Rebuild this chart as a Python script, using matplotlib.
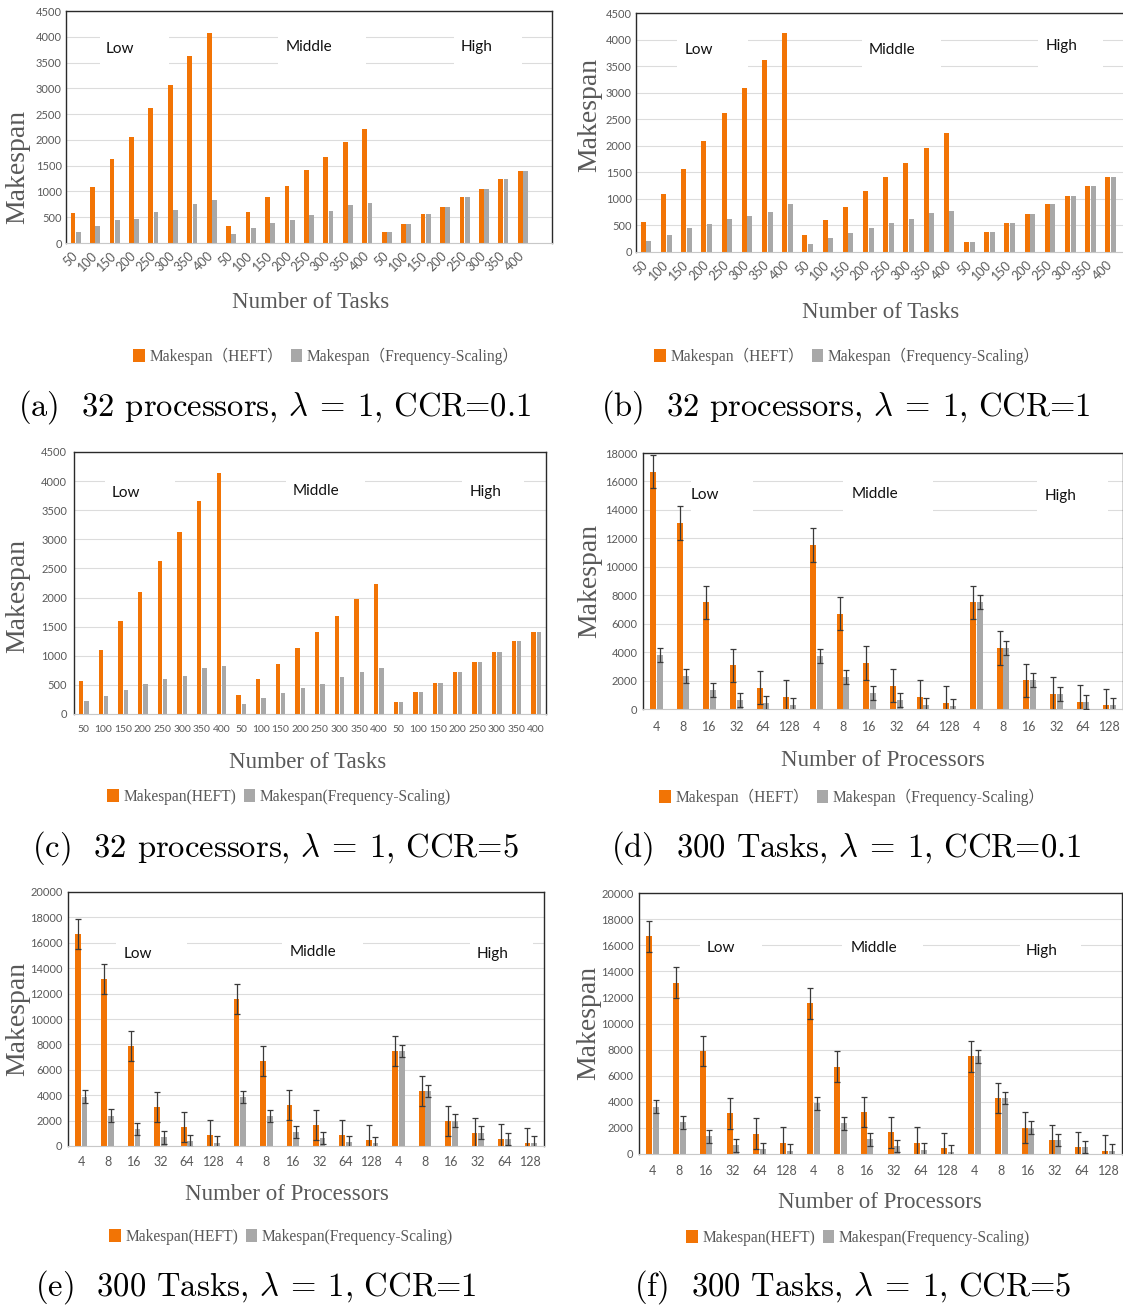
import matplotlib
matplotlib.use('Agg')
import matplotlib.pyplot as plt
from matplotlib.patches import Rectangle, Patch
import numpy as np

plt.rcParams['mathtext.fontset'] = 'cm'

W, H = 1123, 1307

# ---------------- data ----------------
tasks = [50, 100, 150, 200, 250, 300, 350, 400]
procs = [4, 8, 16, 32, 64, 128]
task_labels = [str(t) for t in tasks] * 3
proc_labels = [str(p) for p in procs] * 3
levels = ['Low', 'Middle', 'High']

# (a) 32 processors, CCR=0.1
a_heft_low = [590, 1090, 1625, 2060, 2620, 3065, 3635, 4080]
a_fs_low = [210, 330, 450, 470, 595, 645, 760, 825]
a_heft_mid = [335, 595, 890, 1115, 1420, 1660, 1955, 2210]
a_fs_mid = [175, 285, 380, 445, 535, 625, 730, 775]
a_high = [205, 375, 555, 700, 900, 1050, 1240, 1400]

# (b) 32 processors, CCR=1
b_heft_low = [560, 1090, 1560, 2085, 2620, 3090, 3620, 4130]
b_fs_low = [200, 320, 445, 525, 615, 680, 755, 900]
b_heft_mid = [320, 595, 850, 1140, 1420, 1685, 1965, 2240]
b_fs_mid = [155, 265, 355, 450, 550, 630, 725, 780]
b_high = [195, 375, 540, 715, 905, 1060, 1240, 1420]

# (c) 32 processors, CCR=5
c_heft_low = [575, 1100, 1590, 2100, 2625, 3120, 3655, 4140]
c_fs_low = [215, 315, 405, 520, 600, 660, 795, 830]
c_heft_mid = [320, 595, 860, 1140, 1405, 1680, 1975, 2235]
c_fs_mid = [165, 270, 360, 445, 520, 635, 715, 790]
c_high = [200, 370, 540, 720, 895, 1060, 1255, 1410]

# (d) 300 tasks, CCR=0.1
d_heft_low = [16690, 13080, 7500, 3070, 1500, 840]
d_fs_low = [3820, 2300, 1360, 650, 420, 280]
d_heft_mid = [11550, 6700, 3230, 1640, 840, 420]
d_fs_mid = [3750, 2250, 1120, 610, 300, 230]
d_high = [7500, 4290, 2015, 1080, 515, 260]

# (e) 300 tasks, CCR=1
e_heft_low = [16715, 13140, 7880, 3050, 1525, 840]
e_fs_low = [3890, 2390, 1340, 680, 395, 265]
e_heft_mid = [11565, 6700, 3205, 1655, 840, 445]
e_fs_mid = [3840, 2365, 1105, 630, 290, 210]
e_high = [7490, 4335, 2000, 1050, 550, 265]

# (f) 300 tasks, CCR=5
f_heft_low = [16695, 13140, 7900, 3125, 1550, 865]
f_fs_low = [3635, 2415, 1370, 660, 380, 255]
f_heft_mid = [11540, 6685, 3225, 1650, 865, 455]
f_fs_mid = [3890, 2340, 1120, 610, 330, 180]
f_high = [7500, 4295, 2010, 1065, 535, 255]

# error bar half-widths (constant per series, as read)
err_heft = 1180
err_fs = 490

ORANGE = '#F27405'
GRAY = '#A8A8A8'
TXT = '#595959'
TICKFONT = 'Lato'
SERIF = ['Liberation Serif', 'Noto Sans CJK SC']


def rect(l, t, r, b):
    return [l / W, 1 - b / H, (r - l) / W, (b - t) / H]


def fxy(x, y):
    return x / W, 1 - y / H


fig = plt.figure(figsize=(W / 100, H / 100), dpi=100)


def panel(box, heft, fs, labels, nslots, ymax, ystep, width, off,
          err=False, rot=0, xfs=8, ypad=3, xpad=6, groups=None):
    ax = fig.add_axes(rect(*box))
    x = np.arange(len(heft))
    ax.bar(x - off, heft, width, color=ORANGE, zorder=2)
    ax.bar(x + off, fs, width, color=GRAY, zorder=2)
    if err:
        ax.errorbar(x - off, heft, yerr=err_heft, fmt='none', ecolor='#3a3a3a',
                    elinewidth=0.9, capsize=2.5, capthick=0.9, zorder=3)
        ax.errorbar(x + off, fs, yerr=err_fs, fmt='none', ecolor='#3a3a3a',
                    elinewidth=0.9, capsize=2.5, capthick=0.9, zorder=3)
    ax.set_xlim(-0.5, nslots - 0.5)
    ax.set_ylim(0, ymax)
    ax.set_yticks(np.arange(0, ymax + 1, ystep))
    ax.set_xticks(x)
    if rot:
        ax.set_xticklabels(labels, rotation=rot, ha='right', va='center',
                           rotation_mode='anchor')
    else:
        ax.set_xticklabels(labels)
    ax.tick_params(axis='x', length=0, pad=xpad, labelsize=xfs, labelcolor=TXT)
    ax.tick_params(axis='y', length=0, pad=ypad, labelsize=8, labelcolor=TXT)
    for lab in ax.get_xticklabels() + ax.get_yticklabels():
        lab.set_fontfamily(TICKFONT)
    ax.yaxis.grid(True, color='#DCDCDC', lw=0.8)
    ax.set_axisbelow(True)
    for s in ['top', 'left', 'right']:
        ax.spines[s].set_color('#2a2a2a')
        ax.spines[s].set_linewidth(1.0)
    ax.spines['bottom'].set_color('#C8C8C8')
    ax.spines['bottom'].set_linewidth(0.8)
    if groups:
        for name, (tx, ty, x0, x1, y0, y1) in zip(levels, groups):
            ax.add_patch(Rectangle((x0, y0), x1 - x0, y1 - y0, transform=ax.transAxes,
                                   facecolor='white', edgecolor='none', zorder=1))
            ax.text(tx, ty, name, transform=ax.transAxes, ha='center', va='center',
                    fontsize=11, family='Lato', color='#111111', zorder=4)
    return ax


def labels_and_legend(ylab_xy, xlab_xy, xlab, leg_xy, fullwidth, cap_xy, cap):
    fig.text(*fxy(*ylab_xy), 'Makespan', rotation=90, ha='center', va='center',
             fontsize=20, family=SERIF, color=TXT)
    fig.text(*fxy(*xlab_xy), xlab, ha='center', va='center',
             fontsize=16.5, family=SERIF, color=TXT)
    if fullwidth:
        l1, l2 = 'Makespan（HEFT）', 'Makespan（Frequency-Scaling）'
    else:
        l1, l2 = 'Makespan(HEFT)', 'Makespan(Frequency-Scaling)'
    handles = [Patch(facecolor=ORANGE, edgecolor='none'),
               Patch(facecolor=GRAY, edgecolor='none')]
    fig.legend(handles, [l1, l2], loc='center', bbox_to_anchor=fxy(*leg_xy),
               ncol=2, frameon=False, prop={'family': SERIF, 'size': 11.2},
               labelcolor=TXT, handlelength=0.75, handleheight=0.9,
               handletextpad=0.3, columnspacing=0.5, borderpad=0, borderaxespad=0)
    fig.text(*fxy(*cap_xy), cap, ha='center', va='center', fontsize=23.5,
             family='cmr10', color='black')


# (a)
panel((66, 11, 552, 243), a_heft_low + a_heft_mid + a_high, a_fs_low + a_fs_mid + a_high,
      task_labels, 25, 4500, 500, 0.245, 0.135, rot=45, xfs=9, xpad=8,
      groups=[(0.111, 0.835, 0.070, 0.211, 0.76, 0.90),
              (0.499, 0.846, 0.436, 0.618, 0.76, 0.90),
              (0.845, 0.846, 0.799, 0.939, 0.76, 0.90)])
labels_and_legend((18, 167), (311, 302), 'Number of Tasks', (326, 356), True,
                  (275, 407), r'(a)  32 processors, $\lambda\:=\:1$, CCR=0.1')

# (b)
panel((636, 13, 1141, 252), b_heft_low + b_heft_mid + b_high, b_fs_low + b_fs_mid + b_high,
      task_labels, 25, 4500, 500, 0.245, 0.135, rot=45, xfs=9, xpad=8,
      groups=[(0.125, 0.844, 0.082, 0.221, 0.76, 0.90),
              (0.507, 0.847, 0.447, 0.604, 0.76, 0.90),
              (0.843, 0.861, 0.796, 0.925, 0.76, 0.90)])
labels_and_legend((590, 115), (881, 313), 'Number of Tasks', (847, 356), True,
                  (846, 407), r'(b)  32 processors, $\lambda\:=\:1$, CCR=1')

# (c)
panel((74, 452, 546, 714), c_heft_low + c_heft_mid + c_high, c_fs_low + c_fs_mid + c_high,
      task_labels, 24, 4500, 500, 0.22, 0.13, xfs=7.5, xpad=8, ypad=5,
      groups=[(0.110, 0.845, 0.065, 0.213, 0.81, 0.91),
              (0.513, 0.851, 0.449, 0.616, 0.81, 0.91),
              (0.871, 0.848, 0.821, 0.954, 0.81, 0.91)])
labels_and_legend((18, 596), (308, 762), 'Number of Tasks', (279, 797), False,
                  (275, 848), r'(c)  32 processors, $\lambda\:=\:1$, CCR=5')

# (d)
panel((643, 453, 1123, 709), d_heft_low + d_heft_mid + d_high, d_fs_low + d_fs_mid + d_high,
      proc_labels, 18, 18000, 2000, 0.22, 0.125, err=True, xfs=9, xpad=8.5, ypad=4,
      groups=[(0.129, 0.837, 0.100, 0.230, 0.76, 0.91),
              (0.484, 0.841, 0.417, 0.605, 0.76, 0.91),
              (0.869, 0.831, 0.821, 0.968, 0.76, 0.91)])
labels_and_legend((590, 581), (883, 760), 'Number of Processors', (852, 797), True,
                  (846, 848), r'(d)  300 Tasks, $\lambda\:=\:1$, CCR=0.1')

# (e)
panel((68, 892, 544, 1146), e_heft_low + e_heft_mid + e_high, e_fs_low + e_fs_mid + e_high,
      proc_labels, 18, 20000, 2000, 0.22, 0.125, err=True, xfs=9, xpad=7.5, ypad=4,
      groups=[(0.146, 0.757, 0.101, 0.251, 0.72, 0.82),
              (0.514, 0.762, 0.450, 0.619, 0.72, 0.82),
              (0.892, 0.757, 0.845, 0.976, 0.72, 0.82)])
labels_and_legend((18, 1019), (287, 1195), 'Number of Processors', (281, 1237), False,
                  (256, 1287), r'(e)  300 Tasks, $\lambda\:=\:1$, CCR=1')

# (f)
panel((639, 893, 1122, 1154), f_heft_low + f_heft_mid + f_high, f_fs_low + f_fs_mid + f_high,
      proc_labels, 18, 20000, 2000, 0.22, 0.125, err=True, xfs=9, xpad=8, ypad=4,
      groups=[(0.170, 0.788, 0.127, 0.255, 0.74, 0.84),
              (0.486, 0.790, 0.420, 0.587, 0.74, 0.84),
              (0.833, 0.778, 0.788, 0.915, 0.74, 0.84)])
labels_and_legend((589, 1023), (880, 1202), 'Number of Processors', (858, 1238), False,
                  (853, 1287), r'(f)  300 Tasks, $\lambda\:=\:1$, CCR=5')

fig.savefig('out.png', dpi=100)
